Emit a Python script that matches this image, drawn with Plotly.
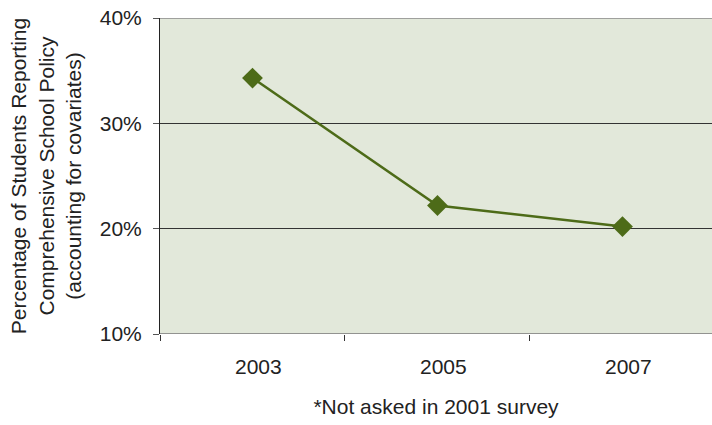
import plotly.graph_objects as go

years = ["2003", "2005", "2007"]
pct = [34.3, 22.2, 20.2]
ytick_vals = [10, 20, 30, 40]
ytick_text = ["10%", "20%", "30%", "40%"]

green = "#4d6b18"
fig = go.Figure()
fig.add_trace(go.Scatter(
    x=years, y=pct, mode="lines+markers",
    line=dict(color=green, width=2.5),
    marker=dict(symbol="diamond", size=16, color=green),
    showlegend=False, hoverinfo="skip",
))

font = dict(family="Liberation Sans, Arial, sans-serif", size=21, color="#222")
fig.update_layout(
    width=712, height=425,
    margin=dict(l=160, r=0, t=18, b=91),
    paper_bgcolor="white", plot_bgcolor="#e2e8da",
    font=font,
    xaxis=dict(
        type="category", range=[-0.5, 2.484],
        tickvals=years, ticktext=["\u00a0\u00a0" + y for y in years],
        showgrid=False, zeroline=False,
        ticks="outside", tickson="boundaries", ticklen=6, tickcolor="#333", tickwidth=1,
        showline=False, ticklabelstandoff=18,
        tickfont=font,
        title=dict(text="*Not asked in 2001 survey", font=font, standoff=22),
    ),
    yaxis=dict(
        range=[10, 40], tickvals=ytick_vals, ticktext=ytick_text,
        showgrid=True, gridcolor="#333", gridwidth=1,
        zeroline=False,
        showline=True, linecolor="#222", linewidth=1,
        ticks="outside", ticklen=6, tickcolor="#555", ticklabelstandoff=7,
        tickfont=font,
        title=dict(text="Percentage of Students Reporting<br>Comprehensive School Policy<br>(accounting for covariates)",
                   font=font, standoff=12),
    ),
)
fig.add_shape(type="line", xref="paper", yref="y", x0=0, x1=1, y0=40, y1=40,
              line=dict(color="#888", width=1.5))
fig.add_shape(type="line", xref="paper", yref="y", x0=0, x1=1, y0=10, y1=10,
              line=dict(color="#777", width=1.5))
fig.write_html("out.html", config={"displayModeBar": False},
               post_script="document.body.style.margin='0px';")
